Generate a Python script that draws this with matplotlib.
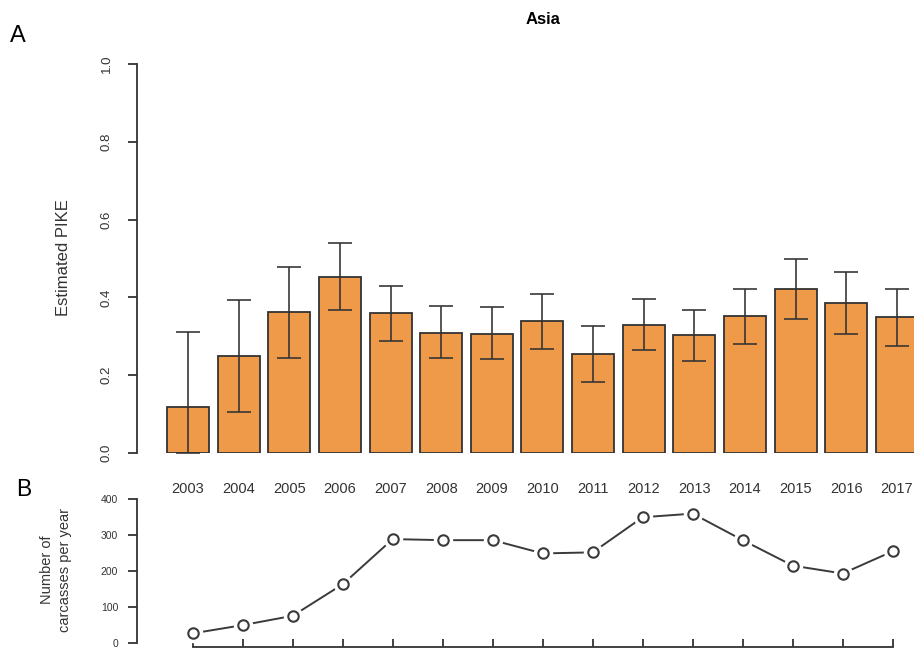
import matplotlib
matplotlib.use("Agg")
import matplotlib.pyplot as plt
import numpy as np

plt.rcParams.update({
    "font.family": ["Liberation Sans", "DejaVu Sans"],
    "axes.spines.top": False,
    "axes.spines.right": False,
})

years = [str(y) for y in range(2003, 2018)]
pike = [0.118, 0.249, 0.362, 0.452, 0.360, 0.308, 0.306, 0.340, 0.254,
        0.330, 0.303, 0.351, 0.422, 0.386, 0.349]
pike_lo = [0.0, 0.106, 0.245, 0.368, 0.288, 0.244, 0.242, 0.267, 0.183,
           0.265, 0.237, 0.279, 0.344, 0.307, 0.274]
pike_hi = [0.311, 0.393, 0.477, 0.540, 0.430, 0.378, 0.375, 0.410, 0.326,
           0.396, 0.368, 0.422, 0.500, 0.465, 0.422]
carcasses = [26, 49, 75, 163, 289, 286, 286, 249, 252, 350, 360, 286, 215, 193, 255]

BAR = "#EE9A49"
DARK = "#333333"
W, H = 914, 648

fig = plt.figure(figsize=(W / 100, H / 100), dpi=100)

# panel A: bars with error bars
axA = fig.add_axes([137 / W, 1 - 453 / H, 1 - 137 / W, 389 / H])
x = np.arange(len(years))
yerr = [np.array(pike) - np.array(pike_lo), np.array(pike_hi) - np.array(pike)]
axA.bar(x, pike, width=0.83, color=BAR, edgecolor=DARK, linewidth=1.3, zorder=2)
axA.errorbar(x, pike, yerr=yerr, fmt="none", ecolor=DARK, elinewidth=1.3,
             capsize=8.3, capthick=1.3, alpha=0.9, zorder=3)
axA.set_xlim((137 - 188) / 50.64, (914 - 188) / 50.64)
axA.set_ylim(0, 1)
axA.spines["bottom"].set_visible(False)
axA.spines["left"].set_bounds(0, 1)
axA.spines["left"].set_color(DARK)
axA.spines["left"].set_linewidth(1.3)
axA.set_yticks([0, 0.2, 0.4, 0.6, 0.8, 1.0])
axA.set_yticklabels(["0.0", "0.2", "0.4", "0.6", "0.8", "1.0"], rotation=90, va="center")
axA.tick_params(axis="y", length=6.5, width=1.3, color=DARK, pad=11,
                labelsize=9.5, labelcolor=DARK)
axA.set_xticks(x)
axA.set_xticklabels(years)
axA.tick_params(axis="x", length=0, pad=21, labelsize=10.5, labelcolor=DARK)

# panel B: carcasses per year
axB = fig.add_axes([137 / W, 1 - 647 / H, 1 - 137 / W, (647 - 499.3) / H])
xb = np.arange(len(carcasses))
axB.plot(xb, carcasses, "-", color="#3a3a3a", lw=1.4, zorder=2)
axB.plot(xb, carcasses, "o", ms=13, mfc="white", mec="white", zorder=3)
axB.plot(xb, carcasses, "o", ms=7.5, mfc="white", mec="#3a3a3a", mew=1.5, zorder=4)
axB.set_xlim((137 - 192.7) / 50.0, (914 - 192.7) / 50.0)
axB.set_ylim(-12, 400)
axB.spines["left"].set_bounds(0, 400)
axB.spines["bottom"].set_bounds(0, len(carcasses) - 1)
for s in ("left", "bottom"):
    axB.spines[s].set_color(DARK)
    axB.spines[s].set_linewidth(1.3)
axB.set_yticks([0, 100, 200, 300, 400])
axB.tick_params(axis="y", length=6.5, width=1.3, color=DARK, pad=7,
                labelsize=7.5, labelcolor=DARK)
axB.set_xticks(xb)
axB.set_xticklabels([])
axB.tick_params(axis="x", direction="in", length=5.8, width=1.3, color=DARK)

# texts
fig.text(543 / W, 1 - 20 / H, "Asia", weight="bold", size=12, ha="center", va="center")
fig.text(10 / W, 1 - 36 / H, "A", size=17, ha="left", va="center")
fig.text(16 / W, 1 - 489 / H, "B", size=16.5, ha="left", va="center")
fig.text(63 / W, 1 - 258 / H, "Estimated PIKE", size=12, rotation=90,
         ha="center", va="center", color=DARK)
fig.text(56 / W, 1 - 570 / H, "Number of\ncarcasses per year", size=10.5,
         rotation=90, ha="center", va="center", linespacing=1.3, color=DARK)

fig.savefig("out.png", dpi=100)
